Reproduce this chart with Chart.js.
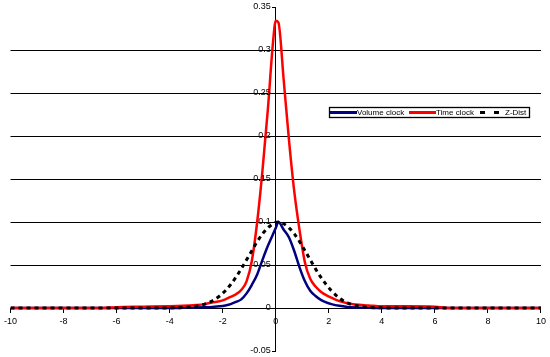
<!DOCTYPE html>
<html>
<head>
<meta charset="utf-8">
<script src="https://cdn.jsdelivr.net/npm/chart.js@4.4.1/dist/chart.umd.min.js"></script>
<style>
html,body{margin:0;padding:0;background:#fff;}
#wrap{width:550px;height:357px;position:relative;}
</style>
</head>
<body>
<div id="wrap"><canvas id="c" width="550" height="357"></canvas></div>
<script>
// x positions (standardised return buckets)
const xValues = [-10,-9,-8,-7,-6.5,-6,-5,-4,-3.5,-3,-2.7,-2.4,-2.1,-1.9,-1.7,-1.5,-1.3,-1.1,-0.9,-0.7,-0.5,-0.3,-0.1,0,0.1,0.3,0.5,0.7,0.9,1.1,1.3,1.5,1.7,1.9,2.1,2.4,2.7,3,3.5,4,5,6,6.5,7,8,9,10];
const volumeClock = [0,0,0,0,0,0,0,0,0.0002,0.0005,0.0008,0.0012,0.002,0.003,0.0045,0.007,0.010,0.017,0.027,0.039,0.056,0.072,0.086,0.093,0.1,0.091,0.082,0.066,0.047,0.031,0.02,0.014,0.0095,0.0065,0.0045,0.0025,0.0013,0.0007,0.0002,0,0,0,0,0,0,0,0];
const timeClock = [0,0,0,0,0,0.001,0.0015,0.002,0.0025,0.0035,0.0045,0.0065,0.008,0.010,0.013,0.016,0.021,0.031,0.055,0.10,0.16,0.23,0.31,0.334,0.332,0.265,0.195,0.135,0.09,0.053,0.034,0.025,0.019,0.015,0.012,0.008,0.0055,0.004,0.003,0.002,0.002,0.0015,0,0,0,0,0];
const zDist = [0,0,0,0,0,0,0,0.0001,0.0006,0.0021,0.0042,0.0081,0.0143,0.0201,0.0273,0.0358,0.0455,0.0560,0.0667,0.0771,0.0862,0.0932,0.0979,0.0995,0.1,0.0979,0.0932,0.0862,0.0771,0.0667,0.0560,0.0455,0.0358,0.0273,0.0201,0.0115,0.0060,0.0029,0.0008,0.0002,0,0,0,0,0,0,0];
const seriesNames = ["Volume clock","Time clock","Z-Dist"];
const xTickStep = 2;
const yMin = -0.05, yMax = 0.35, yTickStep = 0.05;

const FONT = "'Liberation Sans', Arial, sans-serif";
const pts = arr => xValues.map((x,i)=>({x:x,y:arr[i]}));
const fmtY = v => String(Math.round(v*100)/100);

const yLabelPlugin = {
  id:'yLabels',
  afterDraw(chart){
    const ys = chart.scales.y, xs = chart.scales.x;
    const ctx = chart.ctx;
    const ax = xs.getPixelForValue(0);
    ctx.save();
    ctx.font = "9px " + FONT;
    ctx.fillStyle = '#000';
    ctx.textAlign = 'right';
    ctx.textBaseline = 'middle';
    ys.ticks.forEach(t=>{
      ctx.fillText(fmtY(t.value), ax - 5, ys.getPixelForValue(t.value));
    });
    ctx.restore();
  }
};

const legendPlugin = {
  id:'boxLegend',
  afterDraw(chart){
    const ctx = chart.ctx;
    ctx.save();
    const bx=329.5, by=107.5, bw=200, bh=10;
    ctx.fillStyle='#fff';
    ctx.fillRect(bx,by,bw,bh);
    ctx.strokeStyle='#000'; ctx.lineWidth=1.3;
    ctx.strokeRect(bx,by,bw,bh);
    const cy = 112.5;
    const items = [
      {x0:330, x1:357, tx:357},
      {x0:409, x1:436, tx:436},
      {x0:480, x1:500, tx:505}
    ];
    ctx.font = "8px " + FONT;
    ctx.textBaseline='middle';
    ctx.textAlign='left';
    chart.data.datasets.forEach((ds,i)=>{
      const it = items[i];
      ctx.beginPath();
      ctx.strokeStyle = ds.borderColor;
      ctx.lineWidth = 3;
      ctx.setLineDash(ds.borderDash && ds.borderDash.length ? [5,9] : []);
      ctx.moveTo(it.x0, cy); ctx.lineTo(it.x1, cy);
      ctx.stroke();
      ctx.setLineDash([]);
      ctx.fillStyle='#000';
      ctx.fillText(ds.label, it.tx, cy);
    });
    ctx.restore();
  }
};

new Chart(document.getElementById('c'), {
  type:'line',
  data:{
    datasets:[
      {label:seriesNames[0], data:pts(volumeClock), borderColor:'#000080', borderWidth:2.5, pointRadius:0, cubicInterpolationMode:'monotone', fill:false, order:3},
      {label:seriesNames[1], data:pts(timeClock), borderColor:'#FF0000', borderWidth:2.5, pointRadius:0, cubicInterpolationMode:'monotone', fill:false, order:2},
      {label:seriesNames[2], data:pts(zDist), borderColor:'#000000', borderWidth:3, borderDash:[4,4], pointRadius:0, cubicInterpolationMode:'monotone', fill:false, order:1}
    ]
  },
  options:{
    responsive:false,
    animation:false,
    layout:{padding:{left:9,right:6,top:7,bottom:6}},
    plugins:{legend:{display:false}, tooltip:{enabled:false}},
    scales:{
      x:{
        type:'linear', min:-10, max:10,
        position:{y:0},
        ticks:{stepSize:xTickStep, color:'#000', font:{family:FONT,size:9}, maxRotation:0, padding:4,
          callback:v=>String(v)},
        grid:{drawOnChartArea:false, drawTicks:true, tickLength:4, tickColor:'#000'},
        border:{display:true, color:'#000', width:1}
      },
      y:{
        type:'linear', min:yMin, max:yMax,
        position:{x:0},
        ticks:{stepSize:yTickStep, display:false, callback:v=>fmtY(v)},
        grid:{
          color:c=>{const v=c.tick?c.tick.value:null; return (v!==null && v>-0.001 && v<0.31)?'#000':'rgba(0,0,0,0)';},
          tickColor:'#000', tickLength:3, lineWidth:1
        },
        border:{display:true, color:'#000', width:1}
      }
    }
  },
  plugins:[yLabelPlugin, legendPlugin]
});
</script>
</body>
</html>
